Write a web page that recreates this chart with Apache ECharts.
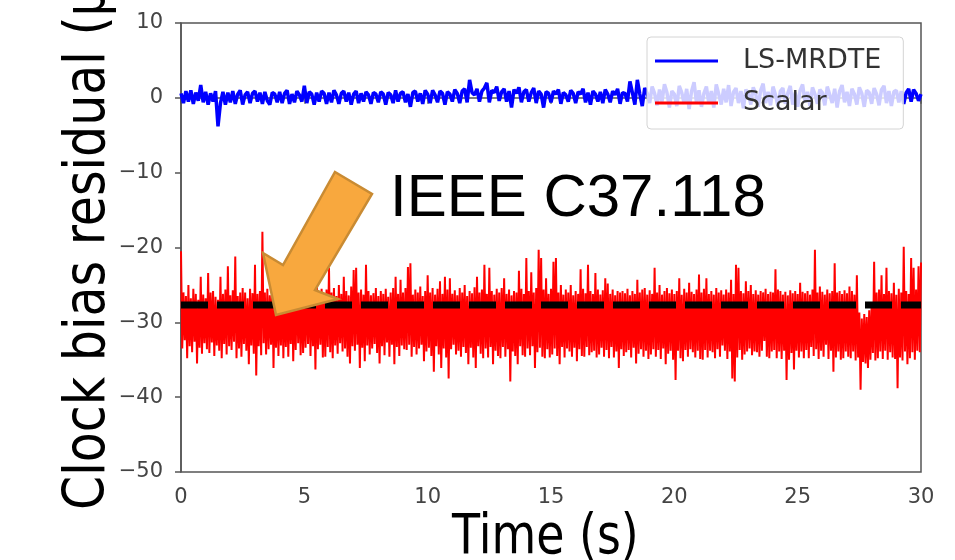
<!DOCTYPE html>
<html>
<head>
<meta charset="utf-8">
<script src="https://cdn.jsdelivr.net/npm/echarts@6/dist/echarts.min.js"></script>
<style>
  html, body { margin: 0; padding: 0; background: #fff; }
  #chart { width: 955px; height: 560px; }
</style>
</head>
<body>
<div id="chart"></div>
<script>
// sample step (s)
const dt = 0.1

// LS-MRDTE residual, one row per second
const lsMrdte = [
  0.6, -0.7, 0.9, -0.5, 1.0, -0.8, 0.7, -0.4, 1.7, -0.6,
  0.8, -0.9, 0.6, -0.5, 0.9, -3.8, -0.7, 0.8, -0.9, 0.7,
  -0.6, 0.9, -0.8, 0.5, 1.0, -0.9, 0.4, 0.8, -0.7, 0.6,
  0.9, -0.5, 0.7, -0.8, 0.8, -0.4, -0.9, 0.7, 0.5, -0.6,
  0.8, -0.7, 0.6, 1.0, -0.8, 0.5, -0.6, 0.9, 0.4, -0.5,
  1.6, -0.7, 0.8, 0.5, -0.9, 0.7, -0.5, 0.9, 0.6, -0.8,
  0.7, -0.6, 1.0, 0.4, -0.8, 0.6, 0.9, -0.5, 0.7, -0.9,
  0.5, 0.9, -0.7, 0.6, -0.5, 0.8, 0.4, -0.8, 0.7, 0.5,
  -0.6, 0.8, 0.5, -0.9, 0.7, 0.4, -0.7, 1.0, -0.5, 0.6,
  0.8, -0.6, 0.5, -1.2, 0.7, 0.9, -0.5, 0.6, -0.8, 1.0,
  0.5, -0.7, 1.0, 0.4, -0.6, 0.9, 0.6, -0.9, 0.8, 0.5,
  -0.5, 1.1, 0.6, -0.7, 0.9, 1.2, -0.6, 2.4, 0.7, 0.4,
  1.2, -0.5, 0.9, 1.3, 2.0, -0.6, 1.0, 0.7, 1.5, -0.4,
  0.8, 1.2, -0.5, 0.9, -1.3, 1.1, 0.6, 1.4, -0.6, 0.8,
  1.1, -0.5, 0.7, 1.3, -0.7, 0.9, 0.5, -1.3, 0.8, 0.6,
  -0.6, 0.9, 0.5, 1.1, -0.8, 0.7, 0.4, -0.5, 1.0, 0.6,
  -0.7, 0.8, 0.5, 1.2, -0.6, 0.7, -0.9, 0.9, 0.5, -0.5,
  0.8, -0.7, 1.1, 0.5, -0.6, 0.9, 0.4, 1.2, -0.8, 0.7,
  0.6, -0.5, 2.2, 0.7, -0.9, 2.4, 0.5, -1.1, 1.3, 0.6,
  -0.7, 1.5, 0.6, -1.0, 1.1, -0.5, 1.8, 0.7, -1.3, 0.9,
  0.5, -1.1, 1.6, 0.7, -0.8, 1.2, -1.5, 0.9, 2.1, -0.7,
  1.0, -1.2, 0.6, 1.5, -0.8, 0.9, -1.3, 1.8, 0.5, -0.9,
  1.2, -0.6, 1.7, -1.1, 0.8, 1.3, -0.7, 0.9, -1.4, 1.1,
  0.6, -0.9, 1.4, 0.5, -1.2, 1.0, 1.9, -0.7, 0.8, -1.0,
  1.5, 0.4, -1.1, 0.9, 1.3, -0.8, 0.6, 1.6, -0.9, 0.7,
  -1.2, 1.0, 1.8, -0.6, 0.8, -1.1, 1.4, 0.5, -0.8, 1.1,
  0.7, -1.0, 1.5, 0.4, -0.7, 1.2, -1.3, 0.9, 1.7, -0.6,
  0.8, -1.1, 1.2, 0.5, -0.9, 1.4, 0.6, -1.2, 1.0, 0.7,
  -0.8, 1.3, 0.5, -1.0, 1.1, 1.6, -0.7, 0.9, -1.1, 0.8,
  1.0, -0.6, 0.9, -0.8, 0.7, 1.2, -0.5, 1.1, 0.6, -0.4,
  0.5
]

// Scalar residual: upper swing of each 0.1 s slot, one row per second
const scalarHigh = [
  -20.5, -26, -26.5, -25, -26.8, -25.5, -26.2, -27, -23.9, -26.3,
  -26.8, -23.4, -26, -25.8, -26.6, -27, -23.9, -26.2, -25.6, -22.5,
  -26.4, -25.7, -21.2, -26.5, -26, -25.4, -26, -26.8, -25.5, -26.1,
  -22.3, -26.2, -25.8, -17.9, -26, -25.5, -26.4, -24.8, -26.2, -25.7,
  -26, -24.6, -26.4, -25.5, -26.6, -25, -26.2, -24.5, -26, -25.8,
  -26.5, -25.2, -24.8, -26, -25.6, -23.5, -26.2, -25.5, -26.4, -25.6,
  -22.7, -26, -25.4, -26.5, -25, -26.2, -23.9, -25.8, -26.4, -25.2,
  -23, -22.7, -26, -25.6, -26.3, -22.3, -25.8, -26.4, -26.1, -25.4,
  -26.5, -25.8, -26.2, -25.5, -26.6, -26, -25.4, -23.9, -26.2, -24.3,
  -26, -25.4, -22.6, -22.1, -26.3, -25.6, -26, -25.2, -26.5, -25.8,
  -23.7, -26, -25.4, -26.3, -25.5, -24.5, -26.2, -23.9, -25.6, -24.1,
  -26.2, -25.7, -26.4, -25.4, -26, -25, -26.5, -25.8, -26.1, -25.3,
  -23.9, -26, -25.6, -22.3, -26.2, -22.7, -25.8, -26.3, -25.5, -26,
  -25.4, -24.1, -26.2, -25.6, -26.4, -25.8, -26, -23.1, -25.5, -26.2,
  -21.4, -25.8, -23.3, -26, -25.4, -20.3, -21.4, -25.6, -24.1, -26.2,
  -25.5, -21.9, -21.4, -26, -25, -26.3, -25.6, -26, -25, -26.4,
  -25.8, -26.2, -22.9, -25.5, -26.1, -22.3, -25.8, -26.2, -23.4, -25.6,
  -26.3, -25.7, -24.1, -24.8, -26.2, -25.6, -26.4, -25.8, -26, -25.8,
  -26.1, -25.5, -26.4, -25.8, -26.2, -24.3, -26, -25.6, -25.4, -26.3,
  -25.7, -26.2, -22.7, -26, -25, -26.3, -25.8, -25.4, -26.1, -25.6,
  -26.2, -25.8, -24.1, -26.3, -25.5, -26, -24.7, -25.9, -26.2, -25.6,
  -23.6, -26, -25.5, -24.1, -26.2, -25.8, -26.3, -25.4, -26, -25.7,
  -26.3, -25.6, -26, -24.3, -26.2, -22.3, -22.7, -25.8, -26.1, -24.5,
  -25.8, -25, -26.2, -25.7, -26.3, -25.8, -26, -25.5, -26.2, -25.9,
  -26, -22.9, -25.6, -25.8, -26.3, -25.9, -26.4, -25.7, -26.1, -25.8,
  -26.2, -24.7, -25.9, -26.1, -25.8, -26.3, -25.6, -20.3, -26, -25.2,
  -25.9, -26.3, -25.6, -26.1, -25.8, -22.1, -26, -25.8, -26.2, -25.7,
  -26.1, -25.2, -25.8, -26.3, -23.7, -28.7, -29.5, -28.9, -29.3, -28.4,
  -27.5, -21.9, -26, -25.6, -23.7, -26.2, -22.7, -25.8, -26.1, -24.7,
  -26.3, -25.5, -26, -19.9, -25.8, -26.2, -21.4, -22.7, -25.6, -22.5,
  -22
]

// Scalar residual: lower swing of each 0.1 s slot, one row per second
const scalarLow = [
  -33.5, -32.4, -34.8, -33.2, -34, -32.6, -35.5, -33.4, -34.2, -32.8,
  -33.6, -34.1, -32.7, -34.5, -33.1, -33.8, -34.8, -32.9, -34.3, -33.2,
  -33.7, -32.6, -34.8, -33.5, -34.6, -32.9, -33.8, -35.6, -33.1, -34.2,
  -37.1, -33.2, -34.4, -32.8, -34.3, -33.6, -33, -36.1, -33.4, -34.5,
  -33.1, -34.8, -33.3, -34.6, -32.9, -35.2, -33.7, -32.8, -34.4, -34.1,
  -33.4, -32.9, -34.5, -33.2, -36.3, -33.6, -33, -34.7, -34.6, -33.3,
  -34, -34.8, -33.1, -34.2, -32.8, -33.9, -33.5, -34.6, -35.5, -33.2,
  -33.8, -33, -36.1, -33.4, -35.2, -33.1, -34.3, -33.5, -32.9, -34.1,
  -35.5, -33.2, -34.4, -32.7, -34.6, -33, -35.6, -33.3, -34.5, -33.1,
  -33.6, -33.7, -33, -34.6, -33.3, -34.3, -33.5, -33, -35.2, -33.9,
  -33.4, -34.5, -36.6, -33.2, -34.3, -36.1, -33.5, -34.7, -37.5, -33.6,
  -33, -34.3, -33.8, -34.6, -33.3, -34.1, -35.6, -33.4, -34.7, -36.1,
  -33.2, -34.2, -34.8, -33.5, -34.7, -33.3, -35.6, -33.8, -34.5, -34.8,
  -33.3, -34.6, -33.6, -37.9, -33.9, -34.5, -35.6, -33.2, -34.4, -34.6,
  -33.5, -34.4, -33.2, -36.1, -34, -33.4, -34.6, -34.8, -33.6, -34.7,
  -34.3, -33.5, -34.5, -35.6, -33.3, -34.7, -33.5, -33.9, -34.6, -33.4,
  -35.2, -33.6, -34.5, -34.6, -33.3, -34.4, -34, -33.8, -34.7, -34.3,
  -33.4, -34.6, -33.7, -34.8, -33.3, -34.7, -33.9, -36.1, -33.6, -34.5,
  -34, -33.7, -34.7, -33.4, -35.5, -34.2, -33.6, -34.6, -33.8, -34.9,
  -34.3, -33.6, -34.6, -33.7, -34.9, -33.5, -35.6, -34.2, -33.8, -35,
  -37.7, -33.8, -34.8, -35.2, -33.7, -34.6, -33.6, -34, -34.7, -33.8,
  -34.9, -35, -33.7, -34.7, -33.8, -34, -34.8, -33.6, -34.6, -33.1,
  -33.8, -34.9, -33.9, -37.5, -37.9, -34.7, -33.7, -35, -34.3, -33.9,
  -33.5, -34.4, -33.9, -34, -34.6, -33.8, -32.5, -34.6, -34.8, -33.9,
  -33.7, -34.8, -33.9, -34.9, -33.8, -37.7, -35, -34.1, -36.3, -33.8,
  -34.7, -33.9, -34.8, -33.7, -34.8, -33.3, -34.5, -33.6, -34.9, -33.8,
  -34.6, -33, -34.9, -33.8, -36.6, -34.7, -33.9, -35, -34.8, -33.9,
  -34.6, -34.8, -33.9, -35.1, -34.7, -39, -35.3, -35.5, -36.1, -35,
  -34.1, -35.1, -34.8, -33.9, -34.9, -33.8, -35, -34, -34.7, -34.9,
  -38.8, -34.7, -35.1, -33.9, -35.6, -34.8, -34, -35, -33.8, -34,
  -34.8
]

// IEEE C37.118 reference level
const ieeeLevel = -27.7
const ieeeSpan = [0, 30]

const toPairs = (arr) => arr.map((v, i) => [+(i * dt).toFixed(2), v])

// each slot swings high then low, half a step apart
const scalarPairs = []
scalarHigh.forEach((hi, i) => {
  const t = i * dt
  scalarPairs.push([+t.toFixed(2), hi])
  if (t + dt / 2 <= 30) scalarPairs.push([+(t + dt / 2).toFixed(2), scalarLow[i]])
})

const textStyleBox = (text, font) => ({
  text: text,
  font: font,
  fill: '#000',
  align: 'left',
  textAlign: 'left',
  verticalAlign: 'bottom',
  textVerticalAlign: 'bottom'
})

const option = {
  animation: false,
  backgroundColor: '#fff',
  grid: {
    left: 181,
    top: 23,
    width: 740,
    height: 449,
    show: true,
    borderColor: '#555',
    borderWidth: 1.5
  },
  legend: {
    orient: 'vertical',
    left: 647,
    top: 37,
    padding: [9, 22, 11, 8],
    itemGap: 12,
    itemWidth: 63,
    itemHeight: 3,
    icon: 'rect',
    backgroundColor: 'rgba(255,255,255,0.8)',
    borderColor: '#d4d4d4',
    borderWidth: 1,
    borderRadius: 4,
    textStyle: {
      fontFamily: 'DejaVu Sans',
      fontSize: 27,
      color: '#333',
      lineHeight: 30,
      padding: [0, 0, 0, 20]
    },
    data: ['LS-MRDTE', 'Scalar']
  },
  xAxis: {
    type: 'value',
    min: 0,
    max: 30,
    interval: 5,
    axisLine: { lineStyle: { color: '#555', width: 1.5 } },
    axisTick: { length: 6, lineStyle: { color: '#555', width: 1.5 } },
    axisLabel: { margin: 15, fontFamily: 'DejaVu Sans', fontSize: 21, color: '#444' },
    splitLine: { show: false }
  },
  yAxis: {
    type: 'value',
    min: -50,
    max: 10,
    interval: 10,
    axisLine: { show: true, lineStyle: { color: '#555', width: 1.5 } },
    axisTick: { show: true, length: 6, lineStyle: { color: '#555', width: 1.5 } },
    axisLabel: {
      margin: 18,
      fontFamily: 'DejaVu Sans',
      fontSize: 21,
      color: '#444',
      formatter: (v) => String(v).replace('-', '\u2212')
    },
    splitLine: { show: false }
  },
  series: [
    {
      name: 'LS-MRDTE',
      type: 'line',
      showSymbol: false,
      symbol: 'none',
      lineStyle: { color: '#0000ff', width: 3.5 },
      itemStyle: { color: '#0000ff' },
      data: toPairs(lsMrdte)
    },
    {
      name: 'Scalar',
      type: 'line',
      showSymbol: false,
      symbol: 'none',
      lineStyle: { color: '#ff0000', width: 2 },
      itemStyle: { color: '#ff0000' },
      data: scalarPairs
    },
    {
      name: 'IEEE C37.118',
      type: 'line',
      showSymbol: false,
      symbol: 'none',
      z: 5,
      lineStyle: { color: '#000', width: 7, type: [27, 9] },
      data: ieeeSpan.map((t) => [t, ieeeLevel])
    }
  ],
  graphic: [
    {
      // y axis title (clipped at top like the original)
      type: 'text',
      x: 118,
      y: 510,
      rotation: Math.PI / 2,
      scaleX: 0.86,
      style: textStyleBox('Clock bias residual (\u03bcs)', '57px "DejaVu Sans"')
    },
    {
      type: 'text',
      x: 452,
      y: 566,
      scaleX: 0.835,
      style: textStyleBox('Time (s)', '55px "DejaVu Sans"')
    },
    {
      type: 'text',
      x: 390,
      y: 229,
      z: 20,
      style: textStyleBox('IEEE C37.118', '60px "Liberation Sans"')
    },
    {
      // orange arrow
      type: 'polygon',
      z: 20,
      shape: {
        points: [[335, 172], [372, 194], [315, 290], [338, 299], [276, 315], [263, 253], [283, 265]]
      },
      style: { fill: '#f8a83e', stroke: '#c98b33', lineWidth: 2.5 }
    }
  ]
}

const chart = echarts.init(document.getElementById('chart'))
chart.setOption(option)
</script>
</body>
</html>
